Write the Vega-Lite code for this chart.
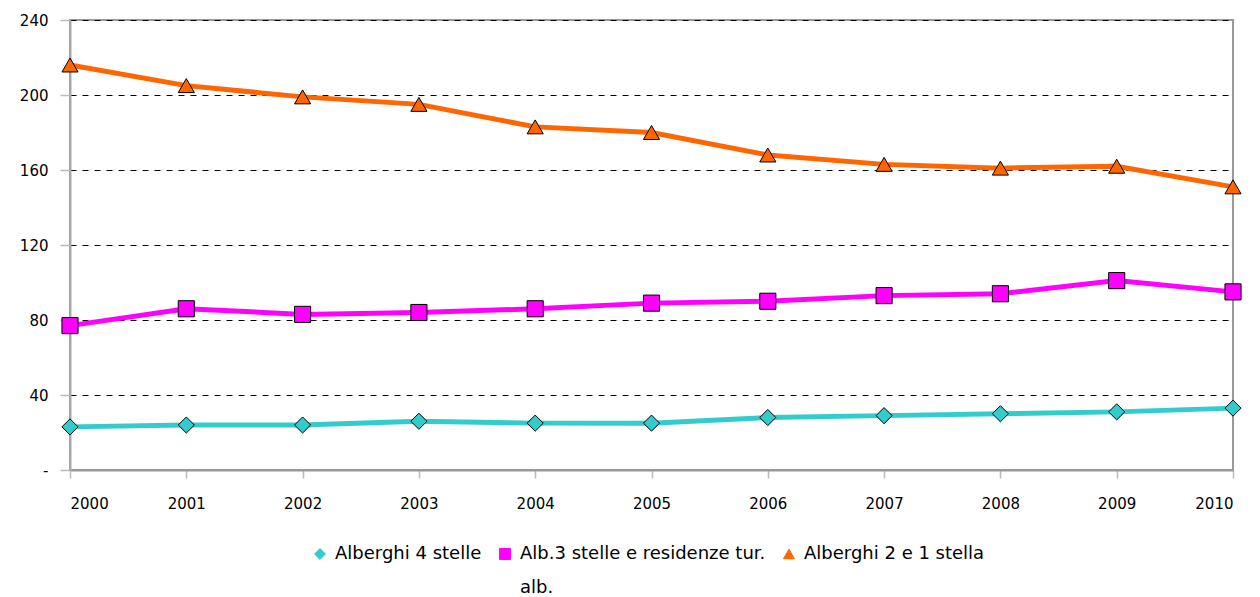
{
  "$schema": "https://vega.github.io/schema/vega-lite/v6.json",
  "autosize": "none",
  "width": 1163,
  "height": 450,
  "padding": {"left": 70, "top": 20, "right": 27, "bottom": 127},
  "background": "white",
  "config": {
    "font": "DejaVu Sans",
    "view": {"stroke": "#999999", "strokeWidth": 2},
    "style": {"guide-label": {"lineHeight": 34}}
  },
  "data": {
    "values": [
      {"year": 2000, "series": "Alberghi 4 stelle", "v": 23},
      {"year": 2001, "series": "Alberghi 4 stelle", "v": 24},
      {"year": 2002, "series": "Alberghi 4 stelle", "v": 24},
      {"year": 2003, "series": "Alberghi 4 stelle", "v": 26},
      {"year": 2004, "series": "Alberghi 4 stelle", "v": 25},
      {"year": 2005, "series": "Alberghi 4 stelle", "v": 25},
      {"year": 2006, "series": "Alberghi 4 stelle", "v": 28},
      {"year": 2007, "series": "Alberghi 4 stelle", "v": 29},
      {"year": 2008, "series": "Alberghi 4 stelle", "v": 30},
      {"year": 2009, "series": "Alberghi 4 stelle", "v": 31},
      {"year": 2010, "series": "Alberghi 4 stelle", "v": 33},
      {"year": 2000, "series": "Alb.3 stelle e residenze tur. alb.", "v": 77},
      {"year": 2001, "series": "Alb.3 stelle e residenze tur. alb.", "v": 86},
      {"year": 2002, "series": "Alb.3 stelle e residenze tur. alb.", "v": 83},
      {"year": 2003, "series": "Alb.3 stelle e residenze tur. alb.", "v": 84},
      {"year": 2004, "series": "Alb.3 stelle e residenze tur. alb.", "v": 86},
      {"year": 2005, "series": "Alb.3 stelle e residenze tur. alb.", "v": 89},
      {"year": 2006, "series": "Alb.3 stelle e residenze tur. alb.", "v": 90},
      {"year": 2007, "series": "Alb.3 stelle e residenze tur. alb.", "v": 93},
      {"year": 2008, "series": "Alb.3 stelle e residenze tur. alb.", "v": 94},
      {"year": 2009, "series": "Alb.3 stelle e residenze tur. alb.", "v": 101},
      {"year": 2010, "series": "Alb.3 stelle e residenze tur. alb.", "v": 95},
      {"year": 2000, "series": "Alberghi 2 e 1 stella", "v": 216},
      {"year": 2001, "series": "Alberghi 2 e 1 stella", "v": 205},
      {"year": 2002, "series": "Alberghi 2 e 1 stella", "v": 199},
      {"year": 2003, "series": "Alberghi 2 e 1 stella", "v": 195},
      {"year": 2004, "series": "Alberghi 2 e 1 stella", "v": 183},
      {"year": 2005, "series": "Alberghi 2 e 1 stella", "v": 180},
      {"year": 2006, "series": "Alberghi 2 e 1 stella", "v": 168},
      {"year": 2007, "series": "Alberghi 2 e 1 stella", "v": 163},
      {"year": 2008, "series": "Alberghi 2 e 1 stella", "v": 161},
      {"year": 2009, "series": "Alberghi 2 e 1 stella", "v": 162},
      {"year": 2010, "series": "Alberghi 2 e 1 stella", "v": 151}
    ]
  },
  "encoding": {
    "x": {
      "field": "year", "type": "quantitative",
      "scale": {"domain": [2000, 2010], "nice": false, "zero": false},
      "axis": {
        "title": null, "format": "d", "values": [2000,2001,2002,2003,2004,2005,2006,2007,2008,2009,2010],
        "grid": false, "domainColor": "#999999", "domainWidth": 2,
        "labelFont": "DejaVu Sans", "labelFontSize": 15, "labelColor": "black",
        "tickColor": "#bbbbbb", "tickSize": 8, "tickWidth": 1.5, "labelPadding": 18
      }
    },
    "y": {
      "field": "v", "type": "quantitative",
      "scale": {"domain": [0, 240], "nice": false},
      "axis": {
        "title": null, "values": [0,40,80,120,160,200,240],
        "labelExpr": "datum.value == 0 ? '-' : datum.label",
        "labelFont": "DejaVu Sans", "labelFontSize": 15, "labelColor": "black",
        "grid": true, "gridColor": "black", "gridDash": [6, 6], "gridWidth": 1,
        "domainColor": "#aaaaaa", "domainWidth": 2,
        "tickColor": "#bbbbbb", "tickSize": 10, "tickWidth": 1.5, "labelPadding": 12
      }
    },
    "color": {
      "field": "series", "type": "nominal",
      "scale": {
        "domain": ["Alberghi 4 stelle", "Alb.3 stelle e residenze tur. alb.", "Alberghi 2 e 1 stella"],
        "range": ["#33CCCC", "#FF00FF", "#FF6600"]
      },
      "legend": {
        "title": null, "orient": "none", "direction": "horizontal",
        "legendX": 241, "legendY": 525,
        "labelFont": "DejaVu Sans", "labelFontSize": 18, "labelColor": "black",
        "labelExpr": "datum.label == 'Alb.3 stelle e residenze tur. alb.' ? ['Alb.3 stelle e residenze tur.', 'alb.'] : [datum.label, ' ']",
        "labelBaseline": "middle", "labelOffset": 6,
        "symbolStrokeColor": "black", "symbolStrokeWidth": 1, "symbolSize": 120,
        "columnPadding": 14, "labelLimit": 400,
        "encode": {
          "symbols": {
            "update": {
              "stroke": {"value": "black"},
              "strokeWidth": {"value": 1}
            }
          }
        }
      }
    },
    "shape": {
      "field": "series", "type": "nominal",
      "scale": {
        "domain": ["Alberghi 4 stelle", "Alb.3 stelle e residenze tur. alb.", "Alberghi 2 e 1 stella"],
        "range": ["diamond", "square", "triangle-up"]
      }
    }
  },
  "layer": [
    {
      "mark": {"type": "line", "strokeWidth": 5, "clip": false},
      "encoding": {"shape": {"value": "circle"}, "detail": {"field": "series"}}
    },
    {
      "mark": {"type": "point", "filled": true, "stroke": "black", "strokeWidth": 1, "opacity": 1, "size": 260, "clip": false}
    }
  ]
}
